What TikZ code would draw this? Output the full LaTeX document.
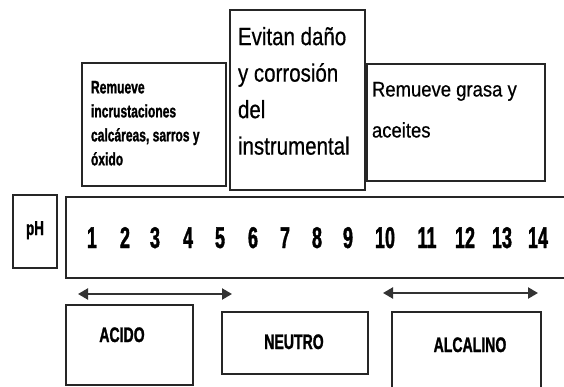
\documentclass[tikz,border=0pt]{standalone}
\usepackage{fontspec}
\setmainfont{Liberation Sans}
\newfontfamily\condf[FakeStretch=0.67,FakeBold=1.2]{Liberation Sans Bold}
\newfontfamily\digf[FakeStretch=0.6,FakeBold=1.2]{Liberation Sans Bold}
\newfontfamily\narf[FakeStretch=0.88,FakeBold=0.6]{Liberation Sans}
\newfontfamily\narg[FakeStretch=0.82,FakeBold=0.6]{Liberation Sans}
\usetikzlibrary{arrows.meta}
\begin{document}
\begin{tikzpicture}[x=1pt,y=-1pt,
  boxst/.style={draw=black!85, line width=1.3pt, fill=white, inner sep=0pt, rectangle},
  txt/.style={inner sep=0pt, outer sep=0pt},
  dig/.style={txt, anchor=base, font=\digf\fontsize{30}{30}\selectfont},
  lab/.style={txt, anchor=base, font=\condf\fontsize{21}{21}\selectfont},
  rng/.style={{Triangle[length=10pt,width=11pt]}-{Triangle[length=10pt,width=11pt]}, line width=2.2pt, draw=black!80}]
\useasboundingbox (0,0) rectangle (564,387);
\clip (0,0) rectangle (564,387);
\fill[white] (0,0) rectangle (564,387);
% upper boxes
\node[boxst, minimum width=144pt, minimum height=123pt] (b1) at (154,124.5) {};
\node[boxst, minimum width=135pt, minimum height=180pt] (b2) at (297.5,100) {};
\node[boxst, minimum width=178pt, minimum height=117pt] (b3) at (456,122.5) {};
\node[txt, anchor=north west, align=left, font=\condf\fontsize{18}{24}\selectfont] (t1) at (91,81)
  {Remueve\\incrustaciones\\calcáreas, sarros y\\óxido};
\node[txt, anchor=north west, align=left, font=\narg\fontsize{25}{36.5}\selectfont] (t2) at (238,27)
  {Evitan daño\\y corrosión\\del\\instrumental};
\node[txt, anchor=north west, align=left, font=\narf\fontsize{21}{41}\selectfont] (t3) at (372,82)
  {Remueve grasa y\\aceites};
% pH scale
\node[boxst, minimum width=44pt, minimum height=73pt] (phbox) at (35,231.5) {};
\node[lab, font=\condf\fontsize{20}{20}\selectfont] (ph) at (35,235) {pH};
\node[boxst, minimum width=534pt, minimum height=81pt] (bar) at (333,237.5) {};
\node[dig] (n1) at (92,248) {1};
\node[dig] (n2) at (125,248) {2};
\node[dig] (n3) at (155,248) {3};
\node[dig] (n4) at (188,248) {4};
\node[dig] (n5) at (220,248) {5};
\node[dig] (n6) at (253,248) {6};
\node[dig] (n7) at (285,248) {7};
\node[dig] (n8) at (317,248) {8};
\node[dig] (n9) at (348,248) {9};
\node[dig] (n10) at (385,248) {10};
\node[dig] (n11) at (427,248) {11};
\node[dig] (n12) at (465,248) {12};
\node[dig] (n13) at (502,248) {13};
\node[dig] (n14) at (538,248) {14};
% ranges
\coordinate (a1l) at (78,294);
\coordinate (a1r) at (232,294);
\coordinate (a2l) at (383,293);
\coordinate (a2r) at (538,293);
\draw[rng] (a1l) -- (a1r);
\draw[rng] (a2l) -- (a2r);
% lower boxes
\node[boxst, minimum width=127pt, minimum height=80pt] (acbox) at (129.5,345) {};
\node[boxst, minimum width=146pt, minimum height=62pt] (nebox) at (295,343) {};
\node[boxst, minimum width=149pt, minimum height=88pt] (albox) at (466.5,356) {};
\node[lab] (ac) at (122,342) {ACIDO};
\node[lab] (ne) at (294,349) {NEUTRO};
\node[lab] (al) at (470,352) {ALCALINO};
\end{tikzpicture}
\end{document}
